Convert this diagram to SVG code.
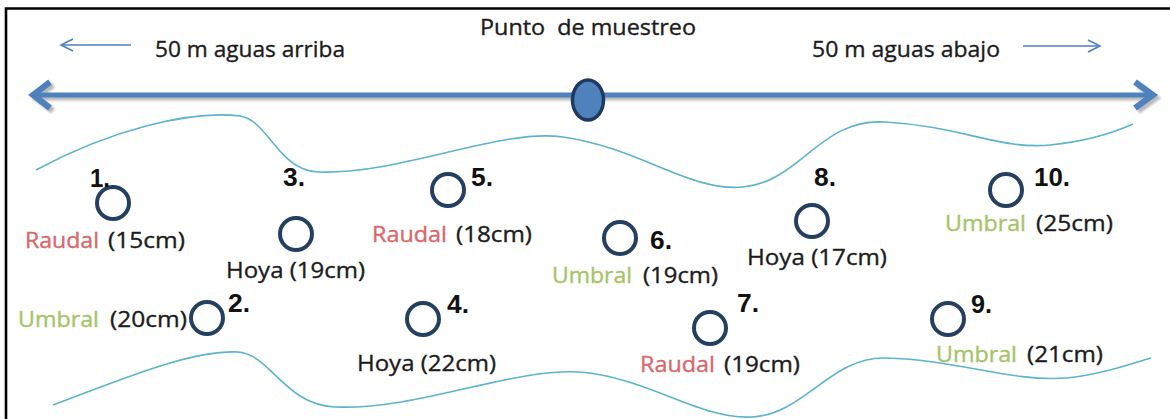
<svg xmlns="http://www.w3.org/2000/svg" width="1170" height="419" viewBox="0 0 1170 419">
<defs>
<style>
.lbl{font-family:"Open Sans","Liberation Sans",sans-serif;font-size:22px;fill:#1c1c1c;stroke:#1c1c1c;stroke-width:0.35px;}
.hdr{font-family:"Open Sans","Liberation Sans",sans-serif;font-size:22px;fill:#1c1c1c;stroke:#1c1c1c;stroke-width:0.35px;}
.num{font-family:"Liberation Sans",Arial,sans-serif;font-size:25px;font-weight:bold;fill:#111;}
.rau{fill:#D8686B;stroke:#D8686B;}
.umb{fill:#A6C468;stroke:#A6C468;}
.pt{fill:none;stroke:#243F60;stroke-width:4;}
.wave{fill:none;stroke:#5BB3CC;stroke-width:1.6;}
.thin{fill:none;stroke:#4F81BD;stroke-width:1.6;}
</style>
<filter id="sh" x="-5%" y="-50%" width="110%" height="200%"><feGaussianBlur stdDeviation="1.2"/></filter>
</defs>
<rect width="1170" height="419" fill="#fff"/>
<g id="frame" stroke="#000" stroke-width="2.6" fill="none">
<path d="M6,419 L6,8.5 L1170,8.5"/>
</g>
<g id="river">
<path class="wave" d="M36,170 C110,130 190,110 240,116 C268,120 278,170 318,172 C400,175 500,128 563,137 C640,148 690,192 743,187 C800,182 820,118 885,122 C960,126 1000,150 1050,145 C1090,141 1115,132 1133,124"/>
<path class="wave" d="M53,405 C120,380 190,350 238,352 C270,354 285,405 335,407 C420,410 510,368 580,372 C650,378 700,420 752,417 C805,414 830,357 885,358 C960,360 1010,382 1066,378 C1100,375 1130,364 1151,358"/>
</g>
<g id="connectors">
<g opacity="0.55" filter="url(#sh)" stroke="#808080" fill="none">
<line x1="38" y1="98" x2="1150" y2="98" stroke-width="5"/>
<polyline points="53,85 36,98 53,111" stroke-width="6"/>
<polyline points="1138,85 1156,98 1138,111" stroke-width="6"/>
</g>
<g stroke="#4F81BD" fill="none">
<line x1="36" y1="95" x2="1150" y2="95" stroke-width="5"/>
<polyline points="50,82 33,95 50,108" stroke-width="6"/>
<polyline points="1135,82 1153,95 1135,108" stroke-width="6"/>
</g>
<line class="thin" x1="62" y1="45" x2="131" y2="45"/>
<polyline class="thin" points="73,39 61,45 73,51"/>
<line class="thin" x1="1023" y1="46" x2="1099" y2="46"/>
<polyline class="thin" points="1088,40 1100,46 1088,52"/>
</g>
<g id="header">
<text class="hdr" x="480" y="35" textLength="216" lengthAdjust="spacingAndGlyphs" xml:space="preserve">Punto  de muestreo</text>
<text class="hdr" x="155" y="57" textLength="190" lengthAdjust="spacingAndGlyphs">50 m aguas arriba</text>
<text class="hdr" x="812" y="57" textLength="188" lengthAdjust="spacingAndGlyphs">50 m aguas abajo</text>
</g>
<g id="sample-point">
<ellipse cx="588" cy="100" rx="15.5" ry="20" fill="#4F81BD" stroke="#1F3A5F" stroke-width="3.5"/>
</g>
<g id="p1">
<circle class="pt" cx="113" cy="203" r="16"/>
<text class="num" x="90" y="187" textLength="20" lengthAdjust="spacingAndGlyphs">1.</text>
<text class="lbl rau" x="25" y="248" textLength="74" lengthAdjust="spacingAndGlyphs">Raudal</text>
<text class="lbl" x="108" y="248" textLength="77" lengthAdjust="spacingAndGlyphs">(15cm)</text>
</g>
<g id="p2">
<circle class="pt" cx="207" cy="318" r="16"/>
<text class="num" x="228" y="312" textLength="22" lengthAdjust="spacingAndGlyphs">2.</text>
<text class="lbl umb" x="18" y="327" textLength="81" lengthAdjust="spacingAndGlyphs">Umbral</text>
<text class="lbl" x="110" y="327" textLength="77" lengthAdjust="spacingAndGlyphs">(20cm)</text>
</g>
<g id="p3">
<circle class="pt" cx="296" cy="234" r="16"/>
<text class="num" x="283" y="186" textLength="22" lengthAdjust="spacingAndGlyphs">3.</text>
<text class="lbl" x="226" y="278" textLength="139" lengthAdjust="spacingAndGlyphs">Hoya (19cm)</text>
</g>
<g id="p4">
<circle class="pt" cx="423" cy="319" r="16"/>
<text class="num" x="447" y="313" textLength="22" lengthAdjust="spacingAndGlyphs">4.</text>
<text class="lbl" x="357" y="371" textLength="139" lengthAdjust="spacingAndGlyphs">Hoya (22cm)</text>
</g>
<g id="p5">
<circle class="pt" cx="448" cy="190" r="16"/>
<text class="num" x="471" y="186" textLength="22" lengthAdjust="spacingAndGlyphs">5.</text>
<text class="lbl rau" x="372" y="242" textLength="75" lengthAdjust="spacingAndGlyphs">Raudal</text>
<text class="lbl" x="456" y="242" textLength="76" lengthAdjust="spacingAndGlyphs">(18cm)</text>
</g>
<g id="p6">
<circle class="pt" cx="620" cy="238" r="16"/>
<text class="num" x="650" y="249" textLength="22" lengthAdjust="spacingAndGlyphs">6.</text>
<text class="lbl umb" x="552" y="283" textLength="80" lengthAdjust="spacingAndGlyphs">Umbral</text>
<text class="lbl" x="643" y="283" textLength="75" lengthAdjust="spacingAndGlyphs">(19cm)</text>
</g>
<g id="p7">
<circle class="pt" cx="710" cy="328" r="16"/>
<text class="num" x="737" y="312" textLength="22" lengthAdjust="spacingAndGlyphs">7.</text>
<text class="lbl rau" x="640" y="372" textLength="75" lengthAdjust="spacingAndGlyphs">Raudal</text>
<text class="lbl" x="724" y="372" textLength="76" lengthAdjust="spacingAndGlyphs">(19cm)</text>
</g>
<g id="p8">
<circle class="pt" cx="812" cy="221" r="16"/>
<text class="num" x="814" y="186" textLength="22" lengthAdjust="spacingAndGlyphs">8.</text>
<text class="lbl" x="747" y="265" textLength="140" lengthAdjust="spacingAndGlyphs">Hoya (17cm)</text>
</g>
<g id="p9">
<circle class="pt" cx="948" cy="319" r="16"/>
<text class="num" x="971" y="313" textLength="21" lengthAdjust="spacingAndGlyphs">9.</text>
<text class="lbl umb" x="936" y="362" textLength="81" lengthAdjust="spacingAndGlyphs">Umbral</text>
<text class="lbl" x="1027" y="362" textLength="76" lengthAdjust="spacingAndGlyphs">(21cm)</text>
</g>
<g id="p10">
<circle class="pt" cx="1006" cy="190" r="16"/>
<text class="num" x="1034" y="186" textLength="36" lengthAdjust="spacingAndGlyphs">10.</text>
<text class="lbl umb" x="945" y="231" textLength="81" lengthAdjust="spacingAndGlyphs">Umbral</text>
<text class="lbl" x="1036" y="231" textLength="77" lengthAdjust="spacingAndGlyphs">(25cm)</text>
</g>
</svg>
